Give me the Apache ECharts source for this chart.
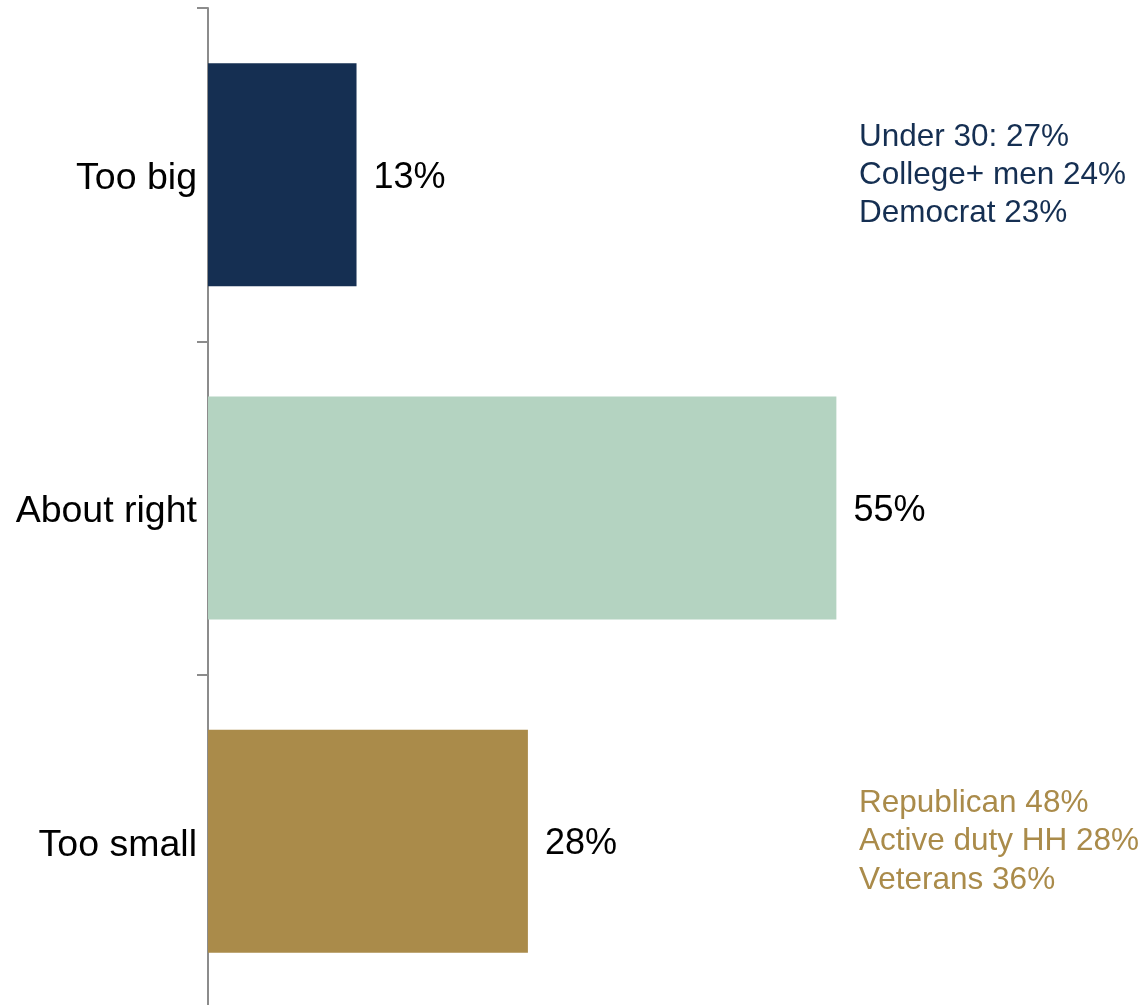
<!DOCTYPE html>
<html>
<head>
<meta charset="utf-8">
<script src="https://cdn.jsdelivr.net/npm/echarts@6/dist/echarts.min.js"></script>
<style>
html,body{margin:0;padding:0;background:#fff;}
#c{width:1145px;height:1005px;}
</style>
</head>
<body>
<div id="c"></div>
<script>
const categories = ['Too big', 'About right', 'Too small'];
const values = [13, 55, 28];
const barColors = ['#152f52', '#b4d3c1', '#aa8b4a'];
const notesTooBig = ['Under 30: 27%', 'College+ men 24%', 'Democrat 23%'];
const notesTooSmall = ['Republican 48%', 'Active duty HH 28%', 'Veterans 36%'];

const FONT = '"Liberation Sans", Arial, sans-serif';
const chart = echarts.init(document.getElementById('c'));
chart.setOption({
  animation: false,
  backgroundColor: '#ffffff',
  grid: { left: 208, top: 8, width: 914, height: 1000, containLabel: false, outerBoundsMode: 'none' },
  xAxis: { type: 'value', min: 0, max: 80, show: false },
  yAxis: {
    type: 'category', data: categories, inverse: true,
    axisLine: { lineStyle: { color: '#8c8c8c', width: 2 } },
    axisTick: { show: true, length: 11, lineStyle: { color: '#8c8c8c', width: 2 } },
    axisLabel: {
      color: '#000', fontSize: 37.5, fontFamily: FONT, margin: 11,
      formatter: v => '{c|' + v + '}',
      rich: { c: { color: '#000', fontSize: 37.5, fontFamily: FONT, padding: [8, 0, 0, 0] } }
    }
  },
  series: [{
    type: 'bar',
    barWidth: 223,
    data: values.map((v, i) => ({ value: v, itemStyle: { color: barColors[i] } })),
    label: {
      show: true, position: 'right', distance: 17, offset: [0, 3],
      formatter: '{c}%', color: '#000', fontSize: 36, fontFamily: FONT
    }
  }]
});

function placeNotes() {
  const y0 = chart.convertToPixel({ yAxisIndex: 0 }, categories[0]);
  const y2 = chart.convertToPixel({ yAxisIndex: 0 }, categories[2]);
  chart.setOption({
    graphic: [
      { type: 'text', x: 859, y: y0 + 1, style: { text: notesTooBig.join('\n'), fill: barColors[0], fontSize: 31.5, fontFamily: FONT, lineHeight: 38, verticalAlign: 'middle', align: 'left' } },
      { type: 'text', x: 859, y: y2, style: { text: notesTooSmall.join('\n'), fill: barColors[2], fontSize: 31.5, fontFamily: FONT, lineHeight: 38.5, verticalAlign: 'middle', align: 'left' } }
    ]
  });
}
placeNotes();
</script>
</body>
</html>
